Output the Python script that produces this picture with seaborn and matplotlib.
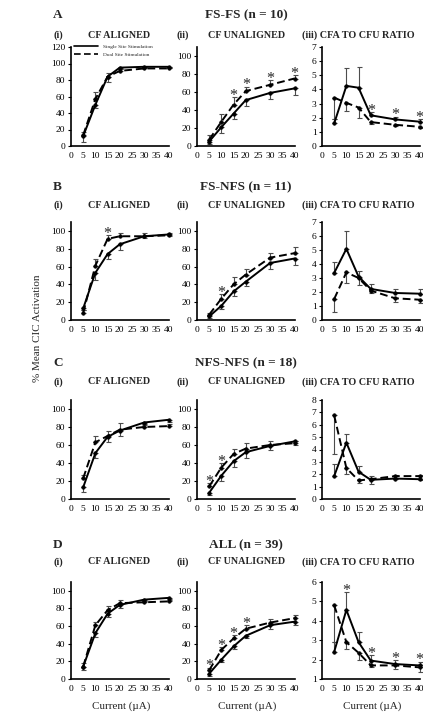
import pandas as pd
import matplotlib
matplotlib.use('Agg')
import matplotlib.pyplot as plt
from matplotlib.lines import Line2D
import seaborn as sns

# x values (current, uA) and tick labels
current = [5, 10, 15, 20, 30, 40]
x_ticks = [0, 5, 10, 15, 20, 25, 30, 35, 40]

# A: FS-FS (n = 10)
fsfs_aligned_single = [12, 50, 84, 95, 96, 96]
fsfs_aligned_dual = [13, 57, 84, 91, 94, 94]
fsfs_aligned_single_err = [7, 4, 6, 2, 2, 2]
fsfs_aligned_dual_err = [4, 9, 5, 2, 2, 2]
fsfs_aligned_stars = []

fsfs_unaligned_single = [5, 21, 36, 51, 59, 64]
fsfs_unaligned_dual = [7, 27, 46, 61, 68, 75]
fsfs_unaligned_single_err = [3, 7, 6, 6, 7, 7]
fsfs_unaligned_dual_err = [5, 9, 8, 5, 5, 4]
fsfs_unaligned_stars = [15, 20, 30, 40]

fsfs_ratio_single = [1.6, 4.25, 4.12, 2.17, 1.88, 1.72]
fsfs_ratio_dual = [3.42, 3.05, 2.72, 1.69, 1.5, 1.36]
fsfs_ratio_single_err = [0.3, 1.25, 1.5, 0.25, 0.2, 0.2]
fsfs_ratio_dual_err = [1.5, 0.6, 0.75, 0.15, 0.1, 0.1]
fsfs_ratio_stars = [20, 30, 40]

# B: FS-NFS (n = 11)
fsnfs_aligned_single = [13, 53, 74, 85, 94, 96]
fsnfs_aligned_dual = [8, 61, 91, 94, 94, 95]
fsnfs_aligned_single_err = [2, 8, 6, 6, 2, 2]
fsnfs_aligned_dual_err = [3, 7, 4, 4, 4, 3]
fsnfs_aligned_stars = [15]

fsnfs_unaligned_single = [4, 16, 32, 43, 64, 69]
fsnfs_unaligned_dual = [6, 24, 40, 51, 70, 75]
fsnfs_unaligned_single_err = [2, 4, 5, 5, 7, 7]
fsnfs_unaligned_dual_err = [2, 5, 8, 6, 5, 7]
fsnfs_unaligned_stars = [10]

fsnfs_ratio_single = [3.36, 5.08, 3.1, 2.22, 1.93, 1.88]
fsnfs_ratio_dual = [1.5, 3.4, 3.0, 2.1, 1.55, 1.45]
fsnfs_ratio_single_err = [0.8, 1.3, 0.4, 0.35, 0.3, 0.3]
fsnfs_ratio_dual_err = [0.95, 0.75, 0.5, 0.2, 0.25, 0.25]
fsnfs_ratio_stars = []

# C: NFS-NFS (n = 18)
nfsnfs_aligned_single = [13, 51, 69, 76, 85, 88]
nfsnfs_aligned_dual = [23, 63, 70, 77, 80, 81]
nfsnfs_aligned_single_err = [5, 5, 6, 6, 2, 2]
nfsnfs_aligned_dual_err = [4, 7, 6, 8, 2, 2]
nfsnfs_aligned_stars = []

nfsnfs_unaligned_single = [7, 26, 42, 52, 59, 64]
nfsnfs_unaligned_dual = [14, 35, 50, 56, 60, 62]
nfsnfs_unaligned_single_err = [2, 6, 6, 6, 5, 4]
nfsnfs_unaligned_dual_err = [4, 5, 6, 6, 5, 3]
nfsnfs_unaligned_stars = [5, 10]

nfsnfs_ratio_single = [1.85, 4.55, 2.2, 1.55, 1.65, 1.6]
nfsnfs_ratio_dual = [6.75, 2.5, 1.5, 1.6, 1.85, 1.85]
nfsnfs_ratio_single_err = [0.95, 0.7, 0.5, 0.3, 0.25, 0.3]
nfsnfs_ratio_dual_err = [3.1, 0.45, 0.2, 0.35, 0.2, 0.3]
nfsnfs_ratio_stars = []

# D: ALL (n = 39)
all_aligned_single = [14, 52, 74, 84, 90, 92]
all_aligned_dual = [14, 61, 78, 86, 87, 88]
all_aligned_single_err = [4, 4, 4, 4, 1.5, 1.5]
all_aligned_dual_err = [4, 4, 5, 4, 2, 2]
all_aligned_stars = []

all_unaligned_single = [6, 22, 37, 49, 61, 65]
all_unaligned_dual = [10, 33, 46, 57, 64, 69]
all_unaligned_single_err = [3, 3, 3, 3, 4, 4]
all_unaligned_dual_err = [3, 3, 4, 4, 4, 4]
all_unaligned_stars = [5, 10, 15, 20]

all_ratio_single = [2.4, 4.56, 2.9, 1.95, 1.77, 1.7]
all_ratio_dual = [4.8, 2.9, 2.35, 1.7, 1.7, 1.6]
all_ratio_single_err = [0.5, 0.9, 0.5, 0.3, 0.2, 0.2]
all_ratio_dual_err = [1.9, 0.35, 0.35, 0.1, 0.2, 0.25]
all_ratio_stars = [10, 20, 30, 40]

SINGLE = 'Single Site Stimulation'
DUAL = 'Dual Site Stimulation'

sns.set_style('ticks')
plt.rcParams['font.family'] = ['Liberation Serif', 'DejaVu Serif']

W, H = 423, 714
fig = plt.figure(figsize=(W / 100, H / 100), dpi=100)


def px_text(x, y, s, **kw):
    fig.text(x / W, 1 - y / H, s, **kw)


def draw_panel(ax, single, dual, single_err, dual_err, stars, single_up):
    df = pd.DataFrame({
        'current': current + current,
        'value': single + dual,
        'stim': [SINGLE] * len(current) + [DUAL] * len(current),
    })
    # error bars: upper series gets upper bars, lower series lower bars
    zeros = [0] * len(current)
    s_yerr = [zeros, single_err] if single_up else [single_err, zeros]
    d_yerr = [dual_err, zeros] if single_up else [zeros, dual_err]
    for vals, yerr in [(single, s_yerr), (dual, d_yerr)]:
        ax.errorbar(current, vals, yerr=yerr, fmt='none', ecolor='0.3',
                    elinewidth=0.8, capsize=1.8, capthick=0.8, zorder=1,
                    clip_on=False)
    sns.lineplot(data=df, x='current', y='value', style='stim',
                 style_order=[SINGLE, DUAL],
                 dashes={SINGLE: '', DUAL: (4, 2)},
                 markers={SINGLE: 'o', DUAL: 'o'},
                 color='black', linewidth=1.4, markersize=2.6,
                 markeredgecolor='black', markeredgewidth=0.4,
                 legend=False, ax=ax, zorder=3, clip_on=False)
    upper_vals = single if single_up else dual
    upper_err = single_err if single_up else dual_err
    for s in stars:
        i = current.index(s)
        ax.annotate('*', (s, upper_vals[i] + upper_err[i]), xytext=(0, -2),
                    textcoords='offset points', ha='center', va='baseline',
                    fontsize=11.5)


rows = [
    ('A', 'FS-FS (n = 10)', 15, 35, 47, 146, [
        (fsfs_aligned_single, fsfs_aligned_dual, fsfs_aligned_single_err, fsfs_aligned_dual_err, fsfs_aligned_stars),
        (fsfs_unaligned_single, fsfs_unaligned_dual, fsfs_unaligned_single_err, fsfs_unaligned_dual_err, fsfs_unaligned_stars),
        (fsfs_ratio_single, fsfs_ratio_dual, fsfs_ratio_single_err, fsfs_ratio_dual_err, fsfs_ratio_stars),
    ], [(0, 120), (0, 110), (0, 7)]),
    ('B', 'FS-NFS (n = 11)', 187, 205, 222, 320, [
        (fsnfs_aligned_single, fsnfs_aligned_dual, fsnfs_aligned_single_err, fsnfs_aligned_dual_err, fsnfs_aligned_stars),
        (fsnfs_unaligned_single, fsnfs_unaligned_dual, fsnfs_unaligned_single_err, fsnfs_unaligned_dual_err, fsnfs_unaligned_stars),
        (fsnfs_ratio_single, fsnfs_ratio_dual, fsnfs_ratio_single_err, fsnfs_ratio_dual_err, fsnfs_ratio_stars),
    ], [(0, 110), (0, 110), (0, 7)]),
    ('C', 'NFS-NFS (n = 18)', 363, 382, 400, 499, [
        (nfsnfs_aligned_single, nfsnfs_aligned_dual, nfsnfs_aligned_single_err, nfsnfs_aligned_dual_err, nfsnfs_aligned_stars),
        (nfsnfs_unaligned_single, nfsnfs_unaligned_dual, nfsnfs_unaligned_single_err, nfsnfs_unaligned_dual_err, nfsnfs_unaligned_stars),
        (nfsnfs_ratio_single, nfsnfs_ratio_dual, nfsnfs_ratio_single_err, nfsnfs_ratio_dual_err, nfsnfs_ratio_stars),
    ], [(0, 110), (0, 110), (0, 8)]),
    ('D', 'ALL (n = 39)', 545, 562, 582, 679, [
        (all_aligned_single, all_aligned_dual, all_aligned_single_err, all_aligned_dual_err, all_aligned_stars),
        (all_unaligned_single, all_unaligned_dual, all_unaligned_single_err, all_unaligned_dual_err, all_unaligned_stars),
        (all_ratio_single, all_ratio_dual, all_ratio_single_err, all_ratio_dual_err, all_ratio_stars),
    ], [(0, 110), (0, 110), (1, 6)]),
]

col_left = [71, 197, 322]
col_width = 97.5

for r, (letter, title, ty, sy, top, bottom, panels, ylims) in enumerate(rows):
    px_text(53, ty, letter, fontsize=9.5, fontweight='bold', va='center')
    px_text(246, ty, title, fontsize=9.5, fontweight='bold', va='center', ha='center')
    px_text(54, sy, '(i)', fontsize=7.3, fontweight='bold', va='center')
    px_text(119, sy, 'CF ALIGNED', fontsize=7.3, fontweight='bold', va='center', ha='center')
    px_text(176, sy, '(ii)', fontsize=7.3, fontweight='bold', va='center')
    px_text(247, sy, 'CF UNALIGNED', fontsize=7.3, fontweight='bold', va='center', ha='center')
    px_text(302, sy, '(iii) CFA TO CFU RATIO', fontsize=7.3, fontweight='bold', va='center')

    for c, (single, dual, s_err, d_err, stars) in enumerate(panels):
        ax = fig.add_axes([col_left[c] / W, 1 - bottom / H,
                           col_width / W, (bottom - top) / H])
        draw_panel(ax, single, dual, s_err, d_err, stars, single_up=(c == 2))
        lo, hi = ylims[c]
        ax.set_xlim(0, 40)
        ax.set_ylim(lo, hi)
        ax.set_xticks(x_ticks)
        if c == 2:
            ax.set_yticks(list(range(lo, hi + 1)))
        else:
            ax.set_yticks(list(range(0, 101 if hi == 110 else hi + 1, 20)))
        ax.set_xlabel('')
        ax.set_ylabel('')
        ax.tick_params(axis='both', labelsize=6.8, colors='black', width=0.8)
        ax.tick_params(axis='y', length=2, pad=2)
        ax.tick_params(axis='x', length=0, pad=4)
        sns.despine(ax=ax)
        for sp in ['left', 'bottom']:
            ax.spines[sp].set_linewidth(1.2)
            ax.spines[sp].set_color('black')
        ax.set_facecolor('none')

        if r == 0 and c == 0:
            handles = [Line2D([], [], color='black', lw=1.2),
                       Line2D([], [], color='black', lw=1.2, dashes=(4, 2))]
            ax.legend(handles, [SINGLE, DUAL], loc='upper left',
                      bbox_to_anchor=(0.03, 1.03), frameon=False,
                      fontsize=3.9, handlelength=4.5, handletextpad=0.8,
                      labelspacing=0.6, borderpad=0, borderaxespad=0)

        if r == 3:
            px_text(col_left[c] + 50, 706, 'Current (\u00b5A)', fontsize=8,
                    ha='center', va='center')

px_text(37, 328, '% Mean CIC Activation', fontsize=8, rotation=90,
        ha='center', va='center')

fig.savefig('out.png', dpi=100)
